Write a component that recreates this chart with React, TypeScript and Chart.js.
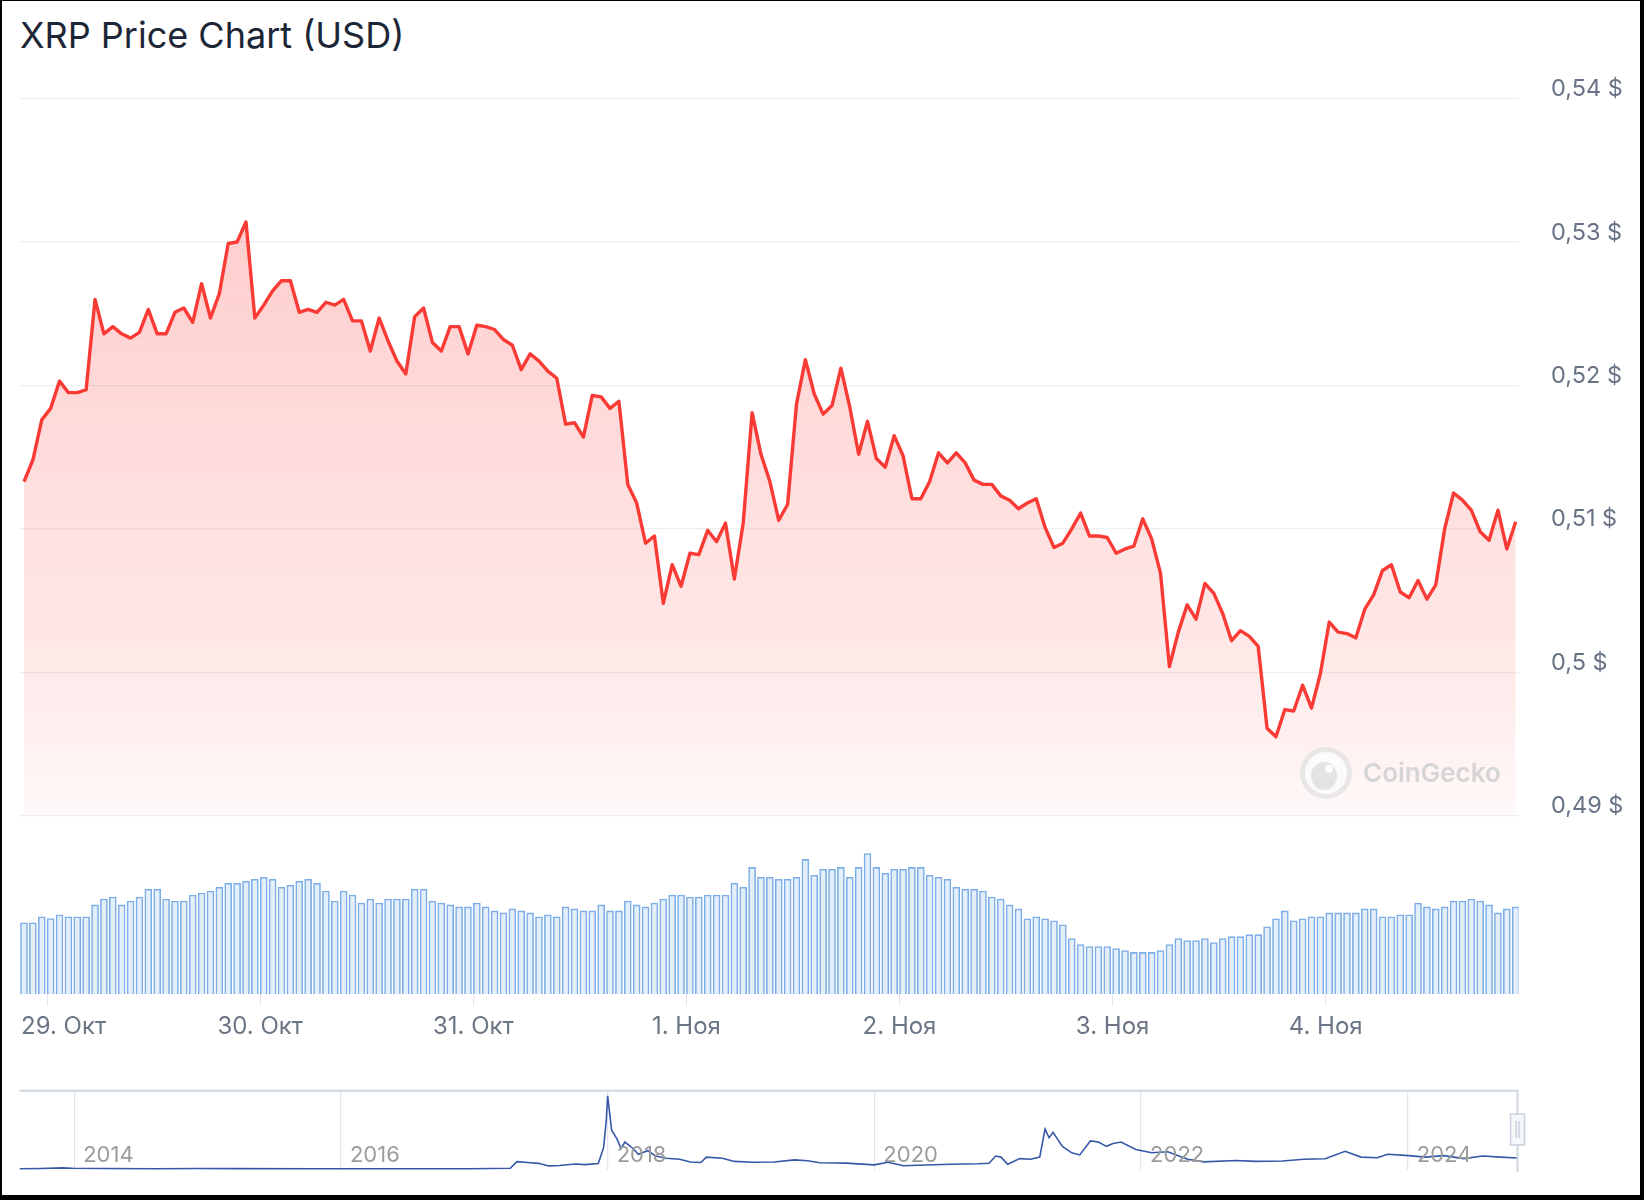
import React, { useEffect, useRef } from 'react';
import { Chart, registerables } from 'chart.js';

Chart.register(...registerables);

// ---------------- DATA ----------------
const chartTitle = 'XRP Price Chart (USD)';

// hourly XRP price, USD (first point ~2.6 h before 29 Oct 00:00)
const priceValues = [
  0.5133, 0.5148, 0.5176, 0.5184, 0.5203, 0.5195, 0.5195, 0.5197, 0.5260, 0.5236,
  0.5241, 0.5236, 0.5233, 0.5237, 0.5253, 0.5236, 0.5236, 0.5251, 0.5254, 0.5244,
  0.5271, 0.5247, 0.5264, 0.5299, 0.5300, 0.5314, 0.5247, 0.5256, 0.5266, 0.5273,
  0.5273, 0.5251, 0.5253, 0.5251, 0.5258, 0.5256, 0.5260, 0.5245, 0.5245, 0.5224,
  0.5247, 0.5231, 0.5217, 0.5208, 0.5248, 0.5254, 0.5230, 0.5224, 0.5241, 0.5241,
  0.5222, 0.5242, 0.5241, 0.5239, 0.5232, 0.5228, 0.5211, 0.5222, 0.5217, 0.5210,
  0.5205, 0.5173, 0.5174, 0.5164, 0.5193, 0.5192, 0.5184, 0.5189, 0.5131, 0.5118,
  0.5090, 0.5095, 0.5048, 0.5075, 0.5060, 0.5083, 0.5082, 0.5099, 0.5091, 0.5104,
  0.5065, 0.5104, 0.5181, 0.5152, 0.5133, 0.5106, 0.5117, 0.5187, 0.5218, 0.5194,
  0.5180, 0.5186, 0.5212, 0.5185, 0.5152, 0.5175, 0.5149, 0.5143, 0.5165, 0.5151,
  0.5121, 0.5121, 0.5133, 0.5153, 0.5146, 0.5153, 0.5146, 0.5134, 0.5131, 0.5131,
  0.5123, 0.5120, 0.5114, 0.5118, 0.5121, 0.5101, 0.5087, 0.5090, 0.5100, 0.5111,
  0.5095, 0.5095, 0.5094, 0.5083, 0.5086, 0.5088, 0.5107, 0.5093, 0.5069, 0.5004,
  0.5028, 0.5047, 0.5037, 0.5062, 0.5055, 0.5041, 0.5022, 0.5029, 0.5025, 0.5018,
  0.4961, 0.4955, 0.4974, 0.4973, 0.4991, 0.4975, 0.4999, 0.5035, 0.5028, 0.5027,
  0.5024, 0.5044, 0.5054, 0.5071, 0.5075, 0.5056, 0.5052, 0.5064, 0.5051, 0.5061,
  0.5100, 0.5125, 0.5120, 0.5113, 0.5098, 0.5092, 0.5113, 0.5086, 0.5105,
];

// hourly traded volume (relative units)
const volumeValues = [
  216, 216, 234, 229, 240, 234, 234, 234, 270, 288,
  294, 270, 282, 294, 318, 318, 288, 282, 282, 300,
  306, 312, 324, 336, 336, 342, 348, 354, 348, 324,
  330, 342, 348, 336, 312, 282, 312, 300, 276, 288,
  276, 288, 288, 288, 318, 318, 282, 276, 270, 264,
  264, 276, 264, 252, 246, 258, 252, 246, 234, 240,
  234, 264, 258, 252, 252, 270, 252, 252, 282, 270,
  264, 276, 288, 300, 300, 294, 294, 300, 300, 300,
  336, 324, 384, 354, 354, 348, 348, 354, 408, 360,
  378, 378, 384, 354, 384, 426, 384, 366, 378, 378,
  384, 384, 360, 354, 348, 324, 318, 318, 312, 294,
  288, 270, 258, 228, 234, 228, 222, 210, 168, 150,
  144, 144, 144, 138, 132, 126, 126, 126, 132, 150,
  168, 162, 162, 168, 156, 168, 174, 174, 180, 180,
  204, 228, 252, 222, 228, 234, 234, 246, 246, 246,
  246, 258, 258, 234, 234, 240, 240, 276, 264, 258,
  264, 282, 282, 288, 282, 270, 246, 258, 264,
];

const firstPointHour = -2.6; // hours relative to 29 Oct 00:00
const dayTickHours = [0, 24, 48, 72, 96, 120, 144];
const dayTickLabels = ['29. Окт', '30. Окт', '31. Окт', '1. Ноя', '2. Ноя', '3. Ноя', '4. Ноя'];

const priceTicks = [0.49, 0.5, 0.51, 0.52, 0.53, 0.54];
const priceTickLabels = ['0,49 $', '0,5 $', '0,51 $', '0,52 $', '0,53 $', '0,54 $'];

// navigator: full price history (year, USD)
const navYears = [
  2013.59, 2013.75, 2013.91, 2013.99, 2014.22, 2014.62, 2014.93, 2015.2, 2015.79, 2016.19,
  2016.97, 2017.27, 2017.32, 2017.4, 2017.48, 2017.56, 2017.64, 2017.76, 2017.83, 2017.93,
  2017.97, 2017.99, 2018.0, 2018.03, 2018.07, 2018.1, 2018.13, 2018.19, 2018.23, 2018.3,
  2018.36, 2018.44, 2018.54, 2018.62, 2018.7, 2018.74, 2018.86, 2018.95, 2019.09, 2019.25,
  2019.4, 2019.5, 2019.59, 2019.79, 2020.0, 2020.1, 2020.22, 2020.38, 2020.58, 2020.78,
  2020.86, 2020.91, 2020.95, 2021.0, 2021.09, 2021.17, 2021.24, 2021.28, 2021.31, 2021.34,
  2021.41, 2021.48, 2021.54, 2021.62, 2021.68, 2021.74, 2021.79, 2021.85, 2021.96, 2022.08,
  2022.2, 2022.35, 2022.47, 2022.71, 2022.86, 2023.06, 2023.22, 2023.38, 2023.53, 2023.65,
  2023.77, 2023.85, 2024.01, 2024.13, 2024.27, 2024.42, 2024.56, 2024.7, 2024.82,
];
const navPrices = [
  0.006, 0.02, 0.05, 0.03, 0.02, 0.01, 0.02, 0.012, 0.006, 0.007,
  0.007, 0.03, 0.34, 0.3, 0.26, 0.14, 0.16, 0.23, 0.2, 0.25,
  1.0, 2.28, 3.4, 1.8, 1.4, 0.95, 1.25, 0.95, 0.68, 0.85,
  0.6, 0.5, 0.45, 0.32, 0.3, 0.55, 0.5, 0.35, 0.31, 0.32,
  0.42, 0.38, 0.29, 0.27, 0.19, 0.31, 0.15, 0.18, 0.22, 0.24,
  0.26, 0.6, 0.55, 0.22, 0.48, 0.45, 0.55, 1.85, 1.45, 1.7,
  1.05, 0.75, 0.65, 1.3, 1.25, 1.05, 1.18, 1.25, 0.9, 0.75,
  0.8, 0.45, 0.33, 0.39, 0.35, 0.37, 0.45, 0.47, 0.82, 0.55,
  0.52, 0.68, 0.62, 0.55, 0.62, 0.48, 0.6, 0.55, 0.51,
];
const navYearTicks = [2014, 2016, 2018, 2020, 2022, 2024];
const navYearLabels = ['2014', '2016', '2018', '2020', '2022', '2024'];

// ---------------- STYLE ----------------
const FONT = 'Inter, "Noto Sans", sans-serif';
const W = 1644;
const MAIN_H = 1060;
const NAV_TOP = 1060;
const NAV_H = 136;
const PLOT_LEFT = 19.5;
const AXIS_W = 125.5;

export default function App() {
  const mainRef = useRef<HTMLCanvasElement | null>(null);
  const navRef = useRef<HTMLCanvasElement | null>(null);

  useEffect(() => {
    const hours = priceValues.map((_, i) => firstPointHour + i);

    const mainDecor = {
      id: 'mainDecor',
      afterDatasetsDraw(chart: any) {
        const ctx = chart.ctx;
        // watermark
        ctx.save();
        const cx = 1326, cy = 773;
        ctx.fillStyle = 'rgba(225,225,225,0.75)';
        ctx.beginPath();
        ctx.arc(cx, cy, 26, 0, Math.PI * 2);
        ctx.fill();
        ctx.fillStyle = 'rgba(255,255,255,0.85)';
        ctx.beginPath();
        ctx.arc(cx, cy, 21, 0, Math.PI * 2);
        ctx.fill();
        ctx.fillStyle = 'rgba(225,225,225,0.85)';
        ctx.beginPath();
        ctx.ellipse(cx - 2, cy + 3, 13, 14, 0, 0, Math.PI * 2);
        ctx.fill();
        ctx.fillStyle = 'rgba(255,255,255,0.95)';
        ctx.beginPath();
        ctx.arc(cx + 3, cy - 4, 4, 0, Math.PI * 2);
        ctx.fill();
        ctx.fillStyle = 'rgba(210,210,210,0.9)';
        ctx.font = `600 26px ${FONT}`;
        ctx.textBaseline = 'middle';
        ctx.textAlign = 'left';
        ctx.fillText('CoinGecko', 1363, 774);
        ctx.restore();
      },
      afterDraw(chart: any) {
        const ctx = chart.ctx;
        const xs = chart.scales.x;
        ctx.save();
        ctx.font = `24px ${FONT}`;
        ctx.fillStyle = '#6b7585';
        ctx.textBaseline = 'middle';
        ctx.textAlign = 'left';
        dayTickHours.forEach((h, i) => {
          const px = xs.getPixelForValue(h);
          const w = ctx.measureText(dayTickLabels[i]).width;
          let left = px - w / 2;
          if (left < chart.chartArea.left + 1.5) left = chart.chartArea.left + 1.5;
          ctx.fillText(dayTickLabels[i], left, 1026.5);
        });
        ctx.restore();
      },
    };

    const main = new Chart(mainRef.current as HTMLCanvasElement, {
      data: {
        datasets: [
          {
            type: 'line',
            data: hours.map((h, i) => ({ x: h, y: priceValues[i] })),
            yAxisID: 'y',
            borderColor: '#fa3a35',
            borderWidth: 3.4,
            borderJoinStyle: 'round',
            pointRadius: 0,
            tension: 0,
            fill: { value: 0.49 },
            backgroundColor: (c: any) => {
              const chart = c.chart;
              if (!chart.chartArea) return 'rgba(255,59,48,0.15)';
              const ys = chart.scales.y;
              const g = chart.ctx.createLinearGradient(0, ys.getPixelForValue(0.54), 0, ys.getPixelForValue(0.49));
              g.addColorStop(0, 'rgba(250,58,53,0.27)');
              g.addColorStop(0.2, 'rgba(250,58,53,0.24)');
              g.addColorStop(0.8, 'rgba(250,58,53,0.11)');
              g.addColorStop(1, 'rgba(250,58,53,0.03)');
              return g;
            },
            order: 1,
          } as any,
          {
            type: 'bar',
            data: hours.map((h, i) => ({ x: h, y: volumeValues[i] })),
            yAxisID: 'yv',
            backgroundColor: '#e4effc',
            borderColor: '#7eaee6',
            borderWidth: 1.6,
            barThickness: 7,
            order: 2,
          } as any,
        ],
      },
      options: {
        animation: false,
        responsive: false,
        maintainAspectRatio: false,
        events: [],
        layout: { padding: { left: PLOT_LEFT, top: 98.6, right: 0, bottom: 54 } },
        plugins: { legend: { display: false }, tooltip: { enabled: false }, title: { display: false } },
        scales: {
          x: {
            type: 'linear',
            offset: false,
            min: -3.107,
            max: 165.715,
            afterBuildTicks: (s: any) => {
              s.ticks = dayTickHours.map((v) => ({ value: v }));
            },
            afterFit: (s: any) => {
              s.height = 12;
            },
            ticks: { display: false },
            grid: { offset: false, drawOnChartArea: false, drawTicks: true, tickLength: 12, color: '#e2e6eb', lineWidth: 1 },
            border: { display: false },
          },
          y: {
            position: 'right',
            min: 0.477568,
            max: 0.54,
            afterBuildTicks: (s: any) => {
              s.ticks = priceTicks.map((v) => ({ value: v }));
            },
            afterFit: (s: any) => {
              s.width = AXIS_W;
            },
            ticks: {
              callback: (v: any) => {
                const idx = priceTicks.findIndex((p) => Math.abs(p - Number(v)) < 1e-9);
                return idx >= 0 ? priceTickLabels[idx] : '';
              },
              color: '#687386',
              font: { family: FONT, size: 23.5 },
              padding: 32.5,
              labelOffset: -9.5,
            },
            grid: { color: '#eceff3', lineWidth: 1.2, drawTicks: false },
            border: { display: false },
          },
          yv: { display: false, min: 0, max: 2715 },
        },
      } as any,
      plugins: [mainDecor],
    });

    const navDecor = {
      id: 'navDecor',
      afterDraw(chart: any) {
        const ctx = chart.ctx;
        const xs = chart.scales.x;
        const ca = chart.chartArea;
        ctx.save();
        ctx.font = `22px ${FONT}`;
        ctx.fillStyle = '#9c9c9c';
        ctx.textBaseline = 'alphabetic';
        ctx.textAlign = 'left';
        navYearTicks.forEach((y, i) => {
          ctx.fillText(navYearLabels[i], xs.getPixelForValue(y) + 9, 102);
        });
        // outline
        ctx.strokeStyle = '#cfd7e2';
        ctx.lineWidth = 2;
        ctx.beginPath();
        ctx.moveTo(ca.left, ca.top);
        ctx.lineTo(ca.right - 1, ca.top);
        ctx.lineTo(ca.right - 1, ca.bottom + 2);
        ctx.stroke();
        // handle
        const hx = ca.right - 1;
        ctx.fillStyle = '#f6f7f9';
        ctx.strokeStyle = '#c9d1dc';
        ctx.lineWidth = 1.5;
        ctx.beginPath();
        ctx.rect(hx - 7, 54, 14, 31);
        ctx.fill();
        ctx.stroke();
        ctx.beginPath();
        ctx.moveTo(hx - 1.5, 61);
        ctx.lineTo(hx - 1.5, 78);
        ctx.moveTo(hx + 1.5, 61);
        ctx.lineTo(hx + 1.5, 78);
        ctx.stroke();
        ctx.restore();
      },
    };

    const nav = new Chart(navRef.current as HTMLCanvasElement, {
      type: 'line',
      data: {
        datasets: [
          {
            data: navYears.map((y, i) => ({ x: y, y: navPrices[i] })),
            borderColor: '#3558a8',
            borderWidth: 1.6,
            pointRadius: 0,
            tension: 0,
            fill: false,
          },
        ],
      },
      options: {
        animation: false,
        responsive: false,
        maintainAspectRatio: false,
        events: [],
        layout: { padding: { left: PLOT_LEFT, right: AXIS_W, top: 30.7, bottom: 26 } },
        plugins: { legend: { display: false }, tooltip: { enabled: false } },
        scales: {
          x: {
            type: 'linear',
            offset: false,
            min: 2013.59,
            max: 2024.83,
            afterBuildTicks: (s: any) => {
              s.ticks = navYearTicks.map((v) => ({ value: v }));
            },
            afterFit: (s: any) => {
              s.height = 0;
            },
            ticks: { display: false },
            grid: { drawOnChartArea: true, drawTicks: false, color: '#e3e6ea', lineWidth: 1.2 },
            border: { display: false },
          },
          y: { display: false, min: -0.05, max: 3.638 },
        },
      } as any,
      plugins: [navDecor],
    });

    return () => {
      main.destroy();
      nav.destroy();
    };
  }, []);

  return (
    <div style={{ position: 'absolute', left: 0, top: 0, width: W, height: 1200, background: '#000' }}>
      <div style={{ position: 'absolute', left: 2, top: 1, width: 1638, height: 1194, background: '#fff' }} />
      <div
        style={{
          position: 'absolute',
          left: 20,
          top: 17,
          fontFamily: FONT,
          fontSize: 36,
          lineHeight: '36px',
          color: '#1d2636',
          whiteSpace: 'nowrap',
        }}
      >
        {chartTitle}
      </div>
      <canvas
        ref={mainRef}
        width={W}
        height={MAIN_H}
        style={{ position: 'absolute', left: 0, top: 0, width: W, height: MAIN_H }}
      />
      <canvas
        ref={navRef}
        width={W}
        height={NAV_H}
        style={{ position: 'absolute', left: 0, top: NAV_TOP, width: W, height: NAV_H }}
      />
    </div>
  );
}
